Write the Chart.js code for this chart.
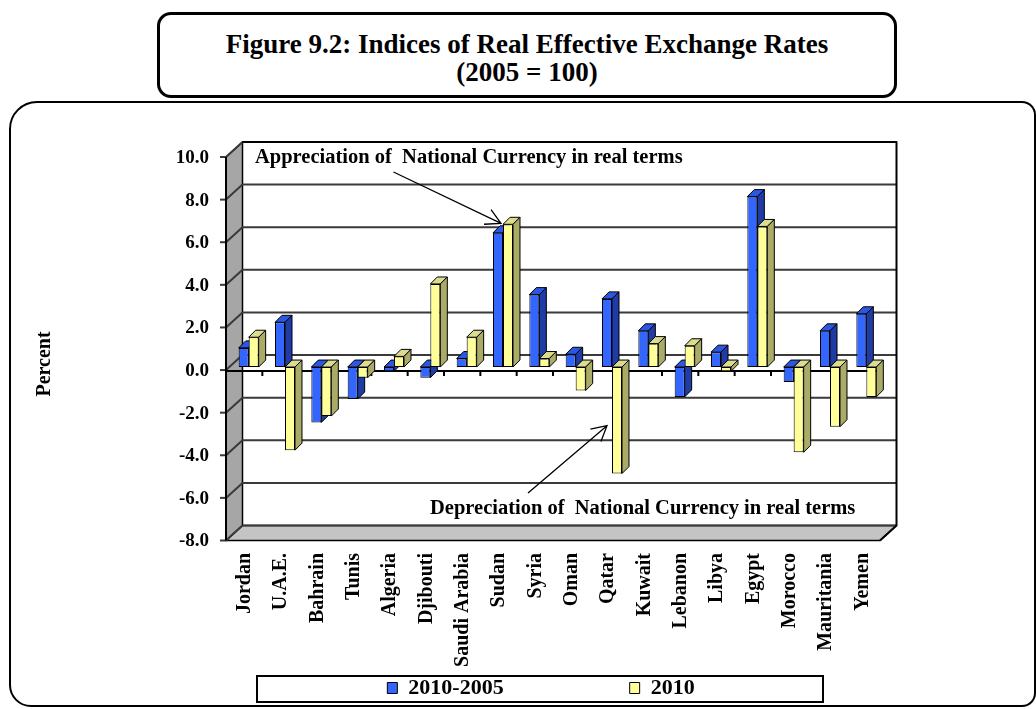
<!DOCTYPE html>
<html>
<head>
<meta charset="utf-8">
<script src="https://cdn.jsdelivr.net/npm/chart.js@4.4.1/dist/chart.umd.min.js"></script>
<style>
  body { margin: 0; background: #fff; }
  #frame {
    position: absolute; left: 9px; top: 101px; width: 1023px; height: 602px;
    border: 2px solid #000; border-radius: 28px 14px 14px 22px;
  }
  #title {
    position: absolute; left: 157px; top: 12px; width: 740px; height: 86px;
    box-sizing: border-box; border: 3px solid #000; border-radius: 14px;
    font: bold 27px "Liberation Serif", "Times New Roman", serif;
    text-align: center; line-height: 28px; padding-top: 15px;
  }
  canvas { position: absolute; left: 0; top: 0; }
</style>
</head>
<body>
<div id="frame"></div>
<div id="title">Figure 9.2: Indices of Real Effective Exchange Rates<br>(2005 = 100)</div>
<canvas id="reer" width="1036" height="709"></canvas>
<script>
const categories = ['Jordan', 'U.A.E.', 'Bahrain', 'Tunis', 'Algeria', 'Djibouti', 'Saudi Arabia',
  'Sudan', 'Syria', 'Oman', 'Qatar', 'Kuwait', 'Lebanon', 'Libya', 'Egypt', 'Morocco',
  'Mauritania', 'Yemen'];
const change2010_2005 = [0.9, 2.1, -2.6, -1.5, -0.2, -0.5, 0.4, 6.3, 3.4, 0.6, 3.2, 1.7, -1.4, 0.7, 8.0, -0.7, 1.7, 2.5];
const rate2010 = [1.4, -3.9, -2.3, -0.5, 0.5, 3.9, 1.4, 6.7, 0.4, -1.1, -5.0, 1.1, 1.0, -0.2, 6.6, -4.0, -2.8, -1.4];
const yMin = -8, yMax = 10, yStep = 2;

const serif = '"Liberation Serif", "Times New Roman", serif';

// fake 3-D: front plane / back wall offsets from the plane the bars sit on
const FRONT = { dx: -4.5, dy: 3 };
const BACK = { dx: 12, dy: -12 };
const BAR_DEPTH = { dx: 7, dy: -7 };

function poly(ctx, pts, fill) {
  ctx.beginPath();
  ctx.moveTo(pts[0][0], pts[0][1]);
  for (let i = 1; i < pts.length; i++) ctx.lineTo(pts[i][0], pts[i][1]);
  ctx.closePath();
  if (fill) { ctx.fillStyle = fill; ctx.fill(); }
  ctx.stroke();
}

// back wall, side wall, floor and grid
const wallPlugin = {
  id: 'walls',
  afterLayout(chart) {
    // the axis boxes are kept thin; let their tick labels spill out instead of being clipped
    chart.scales.x.bottom = chart.height;
    chart.scales.y.left = 0;
  },
  beforeDatasetsDraw(chart) {
    const { ctx, chartArea: a, scales: { x, y } } = chart;
    const fL = a.left + FRONT.dx, fR = a.right + FRONT.dx;
    const bL = a.left + BACK.dx, bR = a.right + BACK.dx;
    const fy = v => y.getPixelForValue(v) + FRONT.dy;
    const by = v => y.getPixelForValue(v) + BACK.dy;
    ctx.save();
    ctx.lineJoin = 'round';

    ctx.fillStyle = '#fff';
    ctx.fillRect(bL, by(yMax), bR - bL, by(yMin) - by(yMax));

    ctx.strokeStyle = '#000';
    ctx.lineWidth = 1.5;
    poly(ctx, [[fL, fy(yMax)], [bL, by(yMax)], [bL, by(yMin)], [fL, fy(yMin)]], '#a6a6a6');
    poly(ctx, [[fL, fy(yMin)], [bL, by(yMin)], [bR, by(yMin)], [fR, fy(yMin)]], '#c4c4c4');

    // grid lines run across the side wall and the back wall
    ctx.strokeStyle = '#3a3a3a';
    ctx.lineWidth = 2;
    y.ticks.forEach(t => {
      ctx.beginPath();
      ctx.moveTo(fL, fy(t.value));
      ctx.lineTo(bL, by(t.value));
      ctx.lineTo(bR, by(t.value));
      ctx.stroke();
      ctx.beginPath();
      ctx.moveTo(fL - 6, fy(t.value));
      ctx.lineTo(fL, fy(t.value));
      ctx.stroke();
    });

    ctx.strokeStyle = '#000';
    ctx.beginPath();
    ctx.moveTo(bL, by(yMax));
    ctx.lineTo(bR, by(yMax));
    ctx.lineTo(bR, by(yMin));
    ctx.lineTo(fR, fy(yMin));
    ctx.stroke();
    ctx.beginPath();
    ctx.moveTo(fL, fy(yMax));
    ctx.lineTo(fL, fy(yMin));
    ctx.stroke();

    // category axis at zero, with ticks between countries
    const band = x.getPixelForValue(1) - x.getPixelForValue(0);
    const zy = fy(0) + 1;
    ctx.beginPath();
    ctx.moveTo(fL, zy);
    ctx.lineTo(fR, zy);
    for (let i = 0; i < categories.length; i++) {
      const tx = x.getPixelForValue(i) + band / 2 + FRONT.dx;
      ctx.moveTo(tx, zy);
      ctx.lineTo(tx, zy + 5);
    }
    ctx.stroke();
    ctx.restore();
  }
};

function drawBarFaces(chart, index) {
  const { ctx } = chart;
  const ds = chart.data.datasets[index];
  const { dx, dy } = BAR_DEPTH;
  ctx.save();
  ctx.strokeStyle = '#000';
  ctx.lineWidth = 1;
  ctx.lineJoin = 'round';
  chart.getDatasetMeta(index).data.forEach(bar => {
    const { x, y, base, width } = bar.getProps(['x', 'y', 'base', 'width'], true);
    const l = x - width / 2, r = x + width / 2;
    const t = Math.min(y, base), b = Math.max(y, base);
    poly(ctx, [[l, t], [l + dx, t + dy], [r + dx, t + dy], [r, t]], ds.topColor);
    poly(ctx, [[r, t], [r + dx, t + dy], [r + dx, b + dy], [r, b]], ds.sideColor);
  });
  ctx.restore();
}

// top and right faces of the bars: the left series goes under the
// front faces, the right-hand series on top of everything
const barDepthPlugin = {
  id: 'barDepth',
  beforeDatasetsDraw(chart) {
    const n = chart.data.datasets.length;
    for (let i = 0; i < n - 1; i++) drawBarFaces(chart, i);
  },
  afterDatasetsDraw(chart) {
    drawBarFaces(chart, chart.data.datasets.length - 1);
  }
};

function arrow(ctx, x0, y0, x1, y1) {
  const ang = Math.atan2(y0 - y1, x0 - x1);
  const len = 17, spread = 0.5;
  ctx.beginPath();
  ctx.moveTo(x0, y0);
  ctx.lineTo(x1, y1);
  ctx.moveTo(x1 + len * Math.cos(ang - spread), y1 + len * Math.sin(ang - spread));
  ctx.lineTo(x1, y1);
  ctx.lineTo(x1 + len * Math.cos(ang + spread), y1 + len * Math.sin(ang + spread));
  ctx.stroke();
}

// notes, arrows, axis title and the frame round the legend
const notesPlugin = {
  id: 'notes',
  afterDraw(chart) {
    const { ctx, chartArea: a, scales: { y } } = chart;
    const bars2010 = chart.getDatasetMeta(1).data;
    ctx.save();
    ctx.fillStyle = '#000';
    ctx.strokeStyle = '#000';
    ctx.font = 'bold 20.5px ' + serif;
    ctx.textBaseline = 'alphabetic';
    ctx.textAlign = 'left';

    ctx.fillText('Appreciation of  National Currency in real terms', a.left + 24.5, y.getPixelForValue(yMax) + 9);
    ctx.fillText('Depreciation of  National Currency in real terms', a.left + 199.5, y.getPixelForValue(yMin) - 23.5);

    ctx.lineWidth = 1.3;
    const sudan = bars2010[categories.indexOf('Sudan')];
    arrow(ctx, a.left + 163, y.getPixelForValue(yMax) + 18,
      sudan.x - sudan.width / 2 - 2, sudan.y - 1);
    const qatar = bars2010[categories.indexOf('Qatar')];
    arrow(ctx, a.left + 297.5, y.getPixelForValue(yMin) - 44.5,
      qatar.x - qatar.width / 2 - 5, y.getPixelForValue(-2.75));

    ctx.save();
    ctx.translate(45, 364);
    ctx.rotate(-Math.PI / 2);
    ctx.textAlign = 'center';
    ctx.textBaseline = 'middle';
    ctx.font = 'bold 20px ' + serif;
    ctx.fillText('Percent', 0, 0);
    ctx.restore();

    const lg = chart.legend;
    const cy = lg.top + lg.options.labels.padding + 11;
    const cx = (lg.left + lg.right) / 2;
    ctx.lineWidth = 2;
    ctx.strokeRect(cx - 284, cy - 12, 566, 26);
    ctx.restore();
  }
};

new Chart(document.getElementById('reer'), {
  type: 'bar',
  data: {
    labels: categories,
    datasets: [
      {
        label: '2010-2005', data: change2010_2005,
        backgroundColor: '#3366ff', topColor: '#2c57e3', sideColor: '#1f3ca6',
        borderColor: '#000', borderWidth: 1, borderSkipped: false
      },
      {
        label: '2010', data: rate2010,
        backgroundColor: '#ffff99', topColor: '#dcdc8e', sideColor: '#abab68',
        borderColor: '#000', borderWidth: 1, borderSkipped: false
      }
    ]
  },
  options: {
    responsive: false,
    animation: false,
    layout: { padding: { top: 154, left: 197.5, right: 151.5, bottom: 0 } },
    datasets: { bar: { categoryPercentage: 0.55, barPercentage: 1 } },
    scales: {
      x: {
        grid: { display: false, drawTicks: false },
        border: { display: false },
        ticks: {
          autoSkip: false, minRotation: 90, maxRotation: 90, padding: 15.5, labelOffset: -4,
          color: '#000', font: { family: serif, size: 20, weight: 'bold' }
        },
        afterFit: s => { s.height = 13.5; }
      },
      y: {
        min: yMin, max: yMax,
        grid: { display: false, drawTicks: false },
        border: { display: false },
        ticks: {
          stepSize: yStep, padding: 21.5, labelOffset: 4, color: '#000',
          font: { family: serif, size: 19, weight: 'bold' },
          callback: v => v.toFixed(1)
        },
        afterFit: s => { s.width = 33; }
      }
    },
    plugins: {
      legend: {
        position: 'bottom',
        labels: {
          boxWidth: 10, boxHeight: 11, padding: 126, color: '#000',
          font: { family: serif, size: 22, weight: 'bold' }
        }
      },
      tooltip: { enabled: false }
    }
  },
  plugins: [wallPlugin, barDepthPlugin, notesPlugin]
});
</script>
</body>
</html>
